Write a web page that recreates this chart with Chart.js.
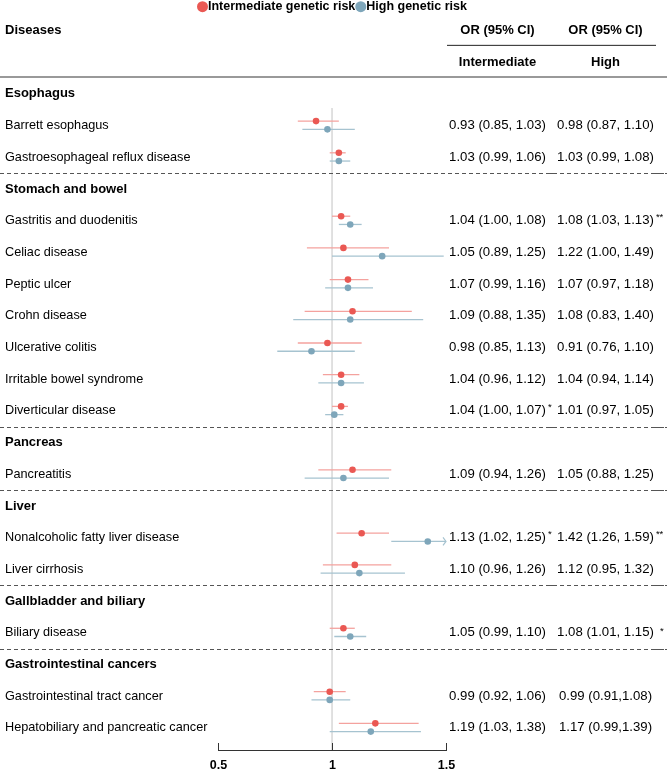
<!DOCTYPE html>
<html>
<head>
<meta charset="utf-8">
<script src="https://cdn.jsdelivr.net/npm/chart.js@4.4.1/dist/chart.umd.min.js"></script>
<style>
  html, body { margin: 0; padding: 0; background: #fff; }
  canvas { display: block; }
</style>
</head>
<body>
<canvas id="forest" width="667" height="774"></canvas>
<script>
// Groups and diseases (row order top to bottom)
const groups = ["Esophagus", "Stomach and bowel", "Pancreas", "Liver", "Gallbladder and biliary", "Gastrointestinal cancers"];
const groupSizes = [2, 7, 1, 2, 1, 2];
const diseases = [
  "Barrett esophagus", "Gastroesophageal reflux disease",
  "Gastritis and duodenitis", "Celiac disease", "Peptic ulcer", "Crohn disease",
  "Ulcerative colitis", "Irritable bowel syndrome", "Diverticular disease",
  "Pancreatitis",
  "Nonalcoholic fatty liver disease", "Liver cirrhosis",
  "Biliary disease",
  "Gastrointestinal tract cancer", "Hepatobiliary and pancreatic cancer"
];

// Intermediate genetic risk
const interOR   = [0.93, 1.03, 1.04, 1.05, 1.07, 1.09, 0.98, 1.04, 1.04, 1.09, 1.13, 1.10, 1.05, 0.99, 1.19];
const interLow  = [0.85, 0.99, 1.00, 0.89, 0.99, 0.88, 0.85, 0.96, 1.00, 0.94, 1.02, 0.96, 0.99, 0.92, 1.03];
const interHigh = [1.03, 1.06, 1.08, 1.25, 1.16, 1.35, 1.13, 1.12, 1.07, 1.26, 1.25, 1.26, 1.10, 1.06, 1.38];
const interText = [
  "0.93 (0.85, 1.03)", "1.03 (0.99, 1.06)", "1.04 (1.00, 1.08)", "1.05 (0.89, 1.25)",
  "1.07 (0.99, 1.16)", "1.09 (0.88, 1.35)", "0.98 (0.85, 1.13)", "1.04 (0.96, 1.12)",
  "1.04 (1.00, 1.07)", "1.09 (0.94, 1.26)", "1.13 (1.02, 1.25)", "1.10 (0.96, 1.26)",
  "1.05 (0.99, 1.10)", "0.99 (0.92, 1.06)", "1.19 (1.03, 1.38)"
];
const interStars = ["", "", "", "", "", "", "", "", "*", "", "*", "", "", "", ""];

// High genetic risk
const highOR   = [0.98, 1.03, 1.08, 1.22, 1.07, 1.08, 0.91, 1.04, 1.01, 1.05, 1.42, 1.12, 1.08, 0.99, 1.17];
const highLow  = [0.87, 0.99, 1.03, 1.00, 0.97, 0.83, 0.76, 0.94, 0.97, 0.88, 1.26, 0.95, 1.01, 0.91, 0.99];
const highHigh = [1.10, 1.08, 1.13, 1.49, 1.18, 1.40, 1.10, 1.14, 1.05, 1.25, 1.59, 1.32, 1.15, 1.08, 1.39];
const highText = [
  "0.98 (0.87, 1.10)", "1.03 (0.99, 1.08)", "1.08 (1.03, 1.13)", "1.22 (1.00, 1.49)",
  "1.07 (0.97, 1.18)", "1.08 (0.83, 1.40)", "0.91 (0.76, 1.10)", "1.04 (0.94, 1.14)",
  "1.01 (0.97, 1.05)", "1.05 (0.88, 1.25)", "1.42 (1.26, 1.59)", "1.12 (0.95, 1.32)",
  "1.08 (1.01, 1.15)", "0.99 (0.91,1.08)", "1.17 (0.99,1.39)"
];
const highStars = ["", "", "**", "", "", "", "", "", "", "", "**", "", "*", "", ""];

const xTicks = [0.5, 1, 1.5];
const xTickLabels = ["0.5", "1", "1.5"];
const legendLabels = ["Intermediate genetic risk", "High genetic risk"];

const FONT = "'Liberation Sans', Arial, Helvetica, sans-serif";
const RED = "#ea5853", RED_LINE = "#f4a29e";
const BLUE = "#7ea6ba", BLUE_LINE = "#a6c3d0";

// row index of each header and disease
const headerRows = [];
const diseaseRows = [];
let r = 0;
groups.forEach((g, gi) => {
  headerRows.push(r++);
  for (let k = 0; k < groupSizes[gi]; k++) diseaseRows.push(r++);
});
const lastRow = r - 1;
const RED_OFF = -0.14, BLUE_OFF = 0.12;

const datasets = [];
datasets.push({
  label: legendLabels[0], order: 0,
  data: interOR.map((v, i) => ({ x: v, y: diseaseRows[i] + RED_OFF })),
  backgroundColor: RED, pointRadius: 3.3, pointHoverRadius: 3.3, borderWidth: 0
});
datasets.push({
  label: legendLabels[1], order: 0,
  data: highOR.map((v, i) => ({ x: v, y: diseaseRows[i] + BLUE_OFF })),
  backgroundColor: BLUE, pointRadius: 3.3, pointHoverRadius: 3.3, borderWidth: 0
});
// CI lines, one dataset each
diseaseRows.forEach((row, i) => {
  datasets.push({
    order: 1, showLine: true, pointRadius: 0, borderColor: RED_LINE, borderWidth: 1.3,
    data: [{ x: interLow[i], y: row + RED_OFF }, { x: interHigh[i], y: row + RED_OFF }]
  });
  datasets.push({
    order: 1, showLine: true, pointRadius: 0, borderColor: BLUE_LINE, borderWidth: 1.3,
    data: [{ x: highLow[i], y: row + BLUE_OFF }, { x: highHigh[i], y: row + BLUE_OFF }]
  });
});
// reference line at OR = 1
datasets.push({
  order: 2, showLine: true, pointRadius: 0, borderColor: "#dcdcdc", borderWidth: 1,
  data: [{ x: 1, y: 0.45 }, { x: 1, y: lastRow + 0.7 }]
});

const forestText = {
  id: "forestText",
  afterDraw(chart) {
    const ctx = chart.ctx;
    const xs = chart.scales.x, ys = chart.scales.y;
    const area = chart.chartArea;
    const Y = v => ys.getPixelForValue(v);
    const W = chart.width;
    const colA = 497.5, colB = 605.5;
    ctx.save();
    ctx.textBaseline = "middle";

    // legend
    ctx.font = "bold 12.5px " + FONT;
    const ly = Y(-2.75);
    const cr = 5.5;
    const w0 = ctx.measureText(legendLabels[0]).width;
    const w1 = ctx.measureText(legendLabels[1]).width;
    const total = cr * 2 + w0 + cr * 2 + w1;
    let lx = (area.left + area.right) / 2 - total / 2;
    [[RED, legendLabels[0], w0], [BLUE, legendLabels[1], w1]].forEach(([c, t, w]) => {
      ctx.fillStyle = c;
      ctx.beginPath(); ctx.arc(lx + cr, ly, cr, 0, Math.PI * 2); ctx.fill();
      ctx.fillStyle = "#000"; ctx.textAlign = "left";
      ctx.fillText(t, lx + cr * 2, ly);
      lx += cr * 2 + w;
    });

    // column headers
    ctx.font = "bold 13px " + FONT;
    ctx.fillStyle = "#000";
    ctx.textAlign = "left";
    ctx.fillText("Diseases", 5, Y(-2));
    ctx.textAlign = "center";
    ctx.fillText("OR (95% CI)", colA, Y(-2));
    ctx.fillText("OR (95% CI)", colB, Y(-2));
    ctx.fillText("Intermediate", colA, Y(-1));
    ctx.fillText("High", colB, Y(-1));
    ctx.strokeStyle = "#222"; ctx.lineWidth = 1;
    ctx.beginPath(); ctx.moveTo(447, Y(-1.53)); ctx.lineTo(656, Y(-1.53)); ctx.stroke();
    ctx.strokeStyle = "#777"; ctx.lineWidth = 1.5;
    ctx.beginPath(); ctx.moveTo(0, Y(-0.53)); ctx.lineTo(W, Y(-0.53)); ctx.stroke();

    // group headers and separators
    headerRows.forEach((row, gi) => {
      ctx.font = "bold 13px " + FONT;
      ctx.textAlign = "left"; ctx.fillStyle = "#000";
      ctx.fillText(groups[gi], 5, Y(row));
      if (gi > 0) {
        const yy = Math.round(Y(row - 0.5)) + 0.5;
        ctx.strokeStyle = "#555"; ctx.lineWidth = 1; ctx.setLineDash([4, 3]);
        ctx.beginPath(); ctx.moveTo(0, yy); ctx.lineTo(W, yy); ctx.stroke();
        ctx.setLineDash([]);
        // short solid pieces where the table columns meet
        ctx.beginPath(); ctx.moveTo(546, yy); ctx.lineTo(556, yy);
        ctx.moveTo(654, yy); ctx.lineTo(664, yy); ctx.stroke();
      }
    });

    // disease labels and OR text
    diseaseRows.forEach((row, i) => {
      const yy = Y(row);
      ctx.fillStyle = "#000";
      ctx.font = "12.7px " + FONT; ctx.textAlign = "left";
      ctx.fillText(diseases[i], 5, yy);
      ctx.font = "13.2px " + FONT; ctx.textAlign = "center";
      ctx.fillText(interText[i], colA, yy);
      ctx.fillText(highText[i], colB, yy);
      const ha = ctx.measureText(interText[i]).width / 2;
      const hb = ctx.measureText(highText[i]).width / 2;
      ctx.font = "9.5px " + FONT; ctx.textAlign = "left";
      if (interStars[i]) ctx.fillText(interStars[i], colA + ha + 2, yy - 3);
      if (highStars[i]) ctx.fillText(highStars[i], colB + hb + (highStars[i] === "*" ? 6 : 2), yy - (highStars[i] === "*" ? 1 : 3));

      // arrow when CI runs past the axis
      [[interHigh[i], RED_OFF, RED_LINE], [highHigh[i], BLUE_OFF, BLUE_LINE]].forEach(([hi, off, col]) => {
        if (hi > xs.max) {
          const ay = Y(row + off), ax = area.right;
          ctx.strokeStyle = col; ctx.lineWidth = 1.2;
          ctx.beginPath(); ctx.moveTo(ax - 3, ay - 4); ctx.lineTo(ax, ay); ctx.lineTo(ax - 3, ay + 4); ctx.stroke();
        }
      });
    });

    // x axis: upward tick marks and bold labels
    ctx.strokeStyle = "#333"; ctx.lineWidth = 1;
    ctx.fillStyle = "#000";
    ctx.font = "bold 12.5px " + FONT; ctx.textAlign = "center";
    xTicks.forEach((v, i) => {
      const px = Math.round(xs.getPixelForValue(v)) + 0.5;
      ctx.beginPath(); ctx.moveTo(px, area.bottom - 7); ctx.lineTo(px, area.bottom); ctx.stroke();
      ctx.fillText(xTickLabels[i], px, area.bottom + 16);
    });
    ctx.restore();
  }
};

new Chart(document.getElementById("forest"), {
  type: "scatter",
  data: { datasets },
  options: {
    responsive: false,
    animation: false,
    devicePixelRatio: 1,
    events: [],
    layout: { padding: { left: 218, right: 221, top: 78, bottom: 24 } },
    plugins: { legend: { display: false }, tooltip: { enabled: false } },
    scales: {
      x: {
        type: "linear", min: 0.5, max: 1.5,
        afterBuildTicks: s => { s.ticks = xTicks.map(v => ({ value: v })); },
        grid: { display: true, drawOnChartArea: false, drawTicks: false },
        border: { display: true, color: "#333", width: 1 },
        ticks: { display: false }
      },
      y: { type: "linear", reverse: true, min: -0.5, max: lastRow + 0.7, display: false }
    }
  },
  plugins: [forestText]
});
</script>
</body>
</html>
